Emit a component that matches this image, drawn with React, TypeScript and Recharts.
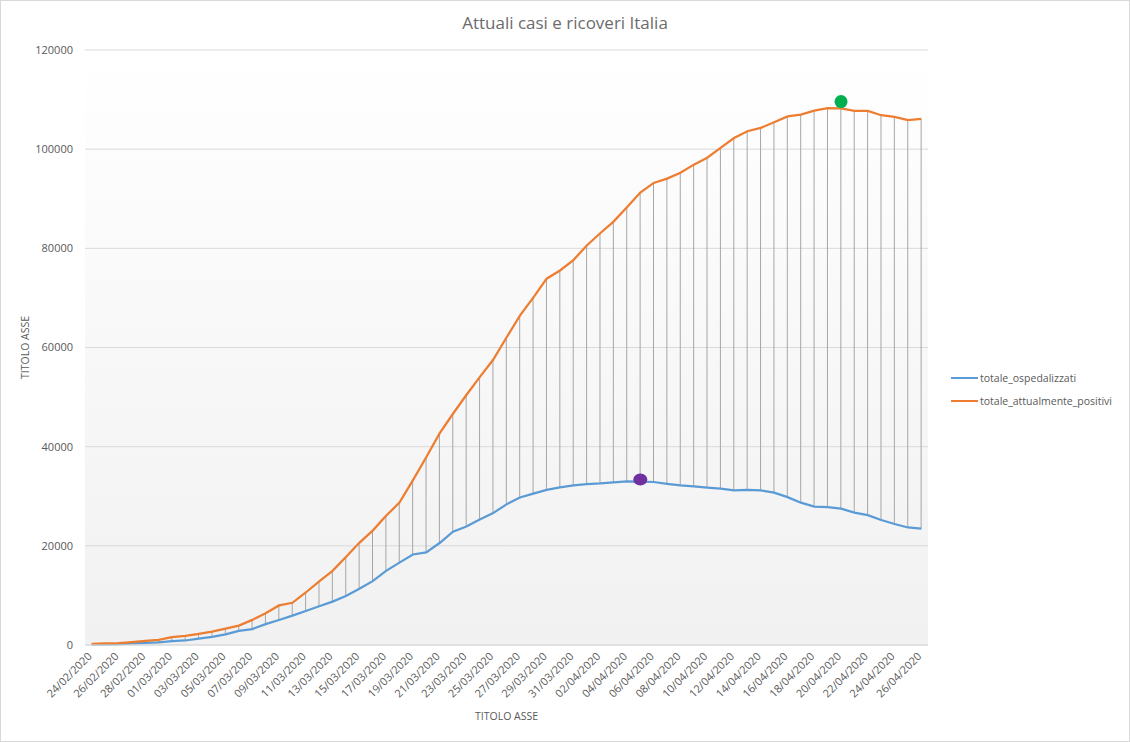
import React from 'react';
import { ComposedChart, Line, Bar, XAxis, YAxis, CartesianGrid, ReferenceDot } from 'recharts';

const dates = [
  '24/02/2020', '25/02/2020', '26/02/2020', '27/02/2020', '28/02/2020', '29/02/2020',
  '01/03/2020', '02/03/2020', '03/03/2020', '04/03/2020', '05/03/2020', '06/03/2020', '07/03/2020',
  '08/03/2020', '09/03/2020', '10/03/2020', '11/03/2020', '12/03/2020', '13/03/2020', '14/03/2020',
  '15/03/2020', '16/03/2020', '17/03/2020', '18/03/2020', '19/03/2020', '20/03/2020', '21/03/2020',
  '22/03/2020', '23/03/2020', '24/03/2020', '25/03/2020', '26/03/2020', '27/03/2020', '28/03/2020',
  '29/03/2020', '30/03/2020', '31/03/2020',
  '01/04/2020', '02/04/2020', '03/04/2020', '04/04/2020', '05/04/2020', '06/04/2020', '07/04/2020',
  '08/04/2020', '09/04/2020', '10/04/2020', '11/04/2020', '12/04/2020', '13/04/2020', '14/04/2020',
  '15/04/2020', '16/04/2020', '17/04/2020', '18/04/2020', '19/04/2020', '20/04/2020', '21/04/2020',
  '22/04/2020', '23/04/2020', '24/04/2020', '25/04/2020', '26/04/2020',
];

const ospedalizzati = [
  127, 150, 164, 304, 409, 506,
  779, 908, 1263, 1641, 2141, 2856, 3218,
  4207, 5049, 5915, 6866, 7803, 8754, 9890,
  11335, 12876, 14954, 16620, 18255, 18675, 20565,
  22855, 23896, 25333, 26601, 28365, 29761, 30532,
  31292, 31776, 32215,
  32438, 32593, 32809, 33004, 32926, 32874, 32510,
  32178, 32004, 31739, 31525, 31190, 31283, 31197,
  30722, 29829, 28700, 27900, 27800, 27500, 26700,
  26200, 25200, 24400, 23700, 23450,
];

const attualmentePositivi = [
  221, 311, 385, 588, 821, 1049,
  1577, 1835, 2263, 2706, 3296, 3916, 5061,
  6387, 7985, 8514, 10590, 12839, 14955, 17750,
  20603, 23073, 26062, 28710, 33190, 37860, 42681,
  46638, 50418, 54030, 57521, 62013, 66414, 70065,
  73880, 75528, 77635,
  80572, 83049, 85388, 88274, 91246, 93187, 94067,
  95262, 96877, 98273, 100269, 102253, 103616, 104291,
  105418, 106607, 106962, 107771, 108257, 108237, 107709,
  107699, 106848, 106527, 105847, 106103,
];

const yTicks = [0, 20000, 40000, 60000, 80000, 100000, 120000];

// hand-drawn highlight dots
const purpleDot = { date: '05/04/2020', value: 33400 };
const greenDot = { date: '20/04/2020', value: 109600 };

const data = dates.map((d, i) => ({
  date: d,
  ospedalizzati: ospedalizzati[i],
  positivi: attualmentePositivi[i],
  range: [ospedalizzati[i], attualmentePositivi[i]],
}));

const FONT = '"Open Sans", sans-serif';
const GREY = '#595959';

const DateTick = (props: any) => {
  const { x, y, payload } = props;
  return (
    <text
      x={x + 1}
      y={y}
      transform={`rotate(-45, ${x + 1}, ${y})`}
      textAnchor="end"
      fontSize={11}
      fontFamily={FONT}
      fill={GREY}
    >
      {payload.value}
    </text>
  );
};

const YTitle = (props: any) => {
  const vb = props.viewBox;
  const cx = vb.x + 25;
  const cy = vb.y + vb.height / 2;
  return (
    <text x={cx} y={cy} transform={`rotate(-90, ${cx}, ${cy})`} textAnchor="middle" dominantBaseline="central"
      fontSize={10.5} fontFamily={FONT} fill={GREY}>
      TITOLO ASSE
    </text>
  );
};

const XTitle = (props: any) => {
  const vb = props.viewBox;
  return (
    <text x={vb.x + vb.width / 2} y={vb.y + 71} textAnchor="middle" dominantBaseline="central"
      fontSize={10.5} fontFamily={FONT} fill={GREY}>
      TITOLO ASSE
    </text>
  );
};

const legendItems = [
  { name: 'totale_ospedalizzati', color: '#5b9bd5' },
  { name: 'totale_attualmente_positivi', color: '#ed7d31' },
];

export default function App() {
  return (
    <div style={{ position: 'absolute', left: 0, top: 0, width: 1130, height: 742, background: '#fff' }}>
      <div style={{ position: 'absolute', inset: 0, border: '1px solid #d9d9d9', boxSizing: 'border-box' }} />
      <div style={{
        position: 'absolute', left: 0, top: 10, width: 1130, textAlign: 'center',
        fontFamily: FONT, fontSize: 17, lineHeight: '26px', color: '#6b6b6b',
      }}>
        Attuali casi e ricoveri Italia
      </div>

      <ComposedChart width={1130} height={742} data={data}
        margin={{ top: 50, right: 202, bottom: 0, left: 0 }}>
        <defs>
          <linearGradient id="plotBg" x1="0" y1="0" x2="0" y2="1">
            <stop offset="0%" stopColor="#ffffff" />
            <stop offset="100%" stopColor="#f1f1f1" />
          </linearGradient>
        </defs>
        <CartesianGrid vertical={false} stroke="#d9d9d9" fill="url(#plotBg)" />
        <XAxis
          dataKey="date"
          interval={1}
          height={97}
          tickLine={false}
          tickSize={0}
          tickMargin={12}
          axisLine={{ stroke: '#d9d9d9' }}
          tick={<DateTick />}
          label={<XTitle />}
        />
        <YAxis
          domain={[0, 120000]}
          ticks={yTicks}
          width={85}
          axisLine={false}
          tickLine={false}
          tickMargin={6}
          tick={{ fontSize: 11, fill: GREY, fontFamily: FONT }}
          label={<YTitle />}
        />
        <Bar dataKey="range" barSize={1} fill="#a6a6a6" isAnimationActive={false} />
        <Line type="linear" dataKey="ospedalizzati" stroke="#5b9bd5" strokeWidth={2.25} dot={false}
          isAnimationActive={false} />
        <Line type="linear" dataKey="positivi" stroke="#ed7d31" strokeWidth={2.25} dot={false}
          isAnimationActive={false} />
        <ReferenceDot x={purpleDot.date} y={purpleDot.value} r={7}
          shape={(p: any) => <ellipse cx={p.cx} cy={p.cy} rx={7} ry={6} fill="#7030a0" />} />
        <ReferenceDot x={greenDot.date} y={greenDot.value} r={7}
          shape={(p: any) => <ellipse cx={p.cx} cy={p.cy} rx={6.5} ry={6.5} fill="#00b050" />} />
      </ComposedChart>

      <div style={{ position: 'absolute', left: 951, top: 366, fontFamily: FONT, fontSize: 10.5, color: GREY }}>
        {legendItems.map((it) => (
          <div key={it.name} style={{ display: 'flex', alignItems: 'center', height: 23 }}>
            <div style={{ width: 27, height: 2, background: it.color, marginRight: 2 }} />
            <span>{it.name}</span>
          </div>
        ))}
      </div>
    </div>
  );
}
